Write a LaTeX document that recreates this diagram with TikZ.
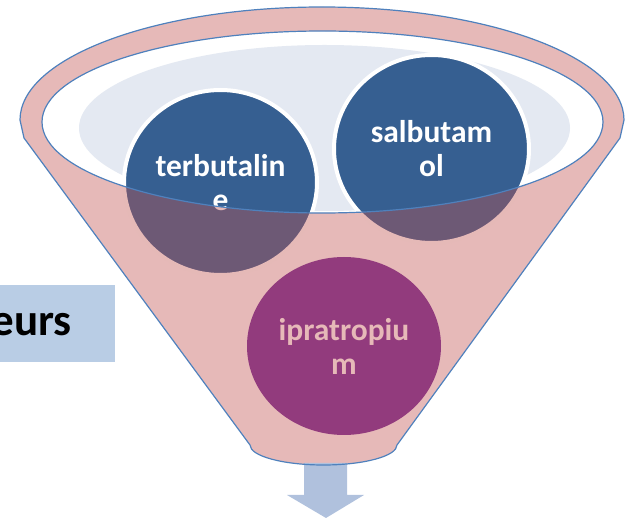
\documentclass[tikz,border=0pt]{standalone}
\usepackage{fontspec}
\setmainfont{Carlito}
\usetikzlibrary{shapes.geometric}
\definecolor{funnelred}{HTML}{C0504D}
\definecolor{rimblue}{HTML}{4F81BD}
\definecolor{ballblue}{HTML}{365F91}
\definecolor{ballpurple}{HTML}{923B7D}
\definecolor{paleblue}{HTML}{E4E9F2}
\definecolor{arrowblue}{HTML}{B0C1DD}
\definecolor{labelbox}{HTML}{B9CDE5}
\definecolor{pinktext}{HTML}{E6B9B8}
\newcommand{\funnelshape}{(20,-120) arc[start angle=180, end angle=0, x radius=302, y radius=113] -- (620,-138) -- (397,-445) arc[start angle=0, end angle=-180, x radius=73.5, y radius=20] -- (24,-138) -- cycle}
\newcommand{\innerrim}{(322.5,-122) ellipse [x radius=280.5, y radius=91]}
\begin{document}
\begin{tikzpicture}[x=1pt,y=1pt,
  ball/.style={ellipse, inner sep=0pt, align=center, font=\bfseries\fontsize{31.5}{34}\selectfont},
  outline/.style={draw=rimblue, line width=1.2pt}]
\useasboundingbox (0,0) rectangle (625,-518);
\clip (0,0) rectangle (625,-518);

% label box at the left
\node[fill=labelbox, minimum width=115, minimum height=77, anchor=north west, inner sep=0pt] (box) at (0,-285) {};
\node[anchor=base east, font=\bfseries\fontsize{45}{50}\selectfont, inner sep=0pt] (lbl) at (72,-336) {eurs};

% mouth of the funnel
\fill[white] \innerrim;
\begin{scope}
  \clip \innerrim;
  \fill[paleblue] (324.5,-128) ellipse [x radius=245.5, y radius=83];
\end{scope}

% balls inside the mouth
\node[ball, fill=ballblue, draw=white, line width=4pt, text=white,
      minimum width=193, minimum height=185] (terb) at (220.5,-182.5) {terbutalin\\e};
\node[ball, fill=ballblue, draw=white, line width=4pt, text=white,
      minimum width=195, minimum height=188] (salb) at (431.5,-149) {salbutam\\ol};

% translucent funnel body
\fill[funnelred, fill opacity=0.4, even odd rule] \funnelshape \innerrim;

% output arrow
\fill[arrowblue] (304,-463) -- (347,-463) -- (347,-495) -- (364,-495) -- (326,-518) -- (287,-495) -- (304,-495) -- cycle;

% outlines
\draw[outline] \funnelshape;
\draw[outline] \innerrim;

% ball in the neck
\node[ball, fill=ballpurple, text=pinktext,
      minimum width=194, minimum height=178] (ipra) at (344,-346) {ipratropiu\\m};
\end{tikzpicture}
\end{document}
